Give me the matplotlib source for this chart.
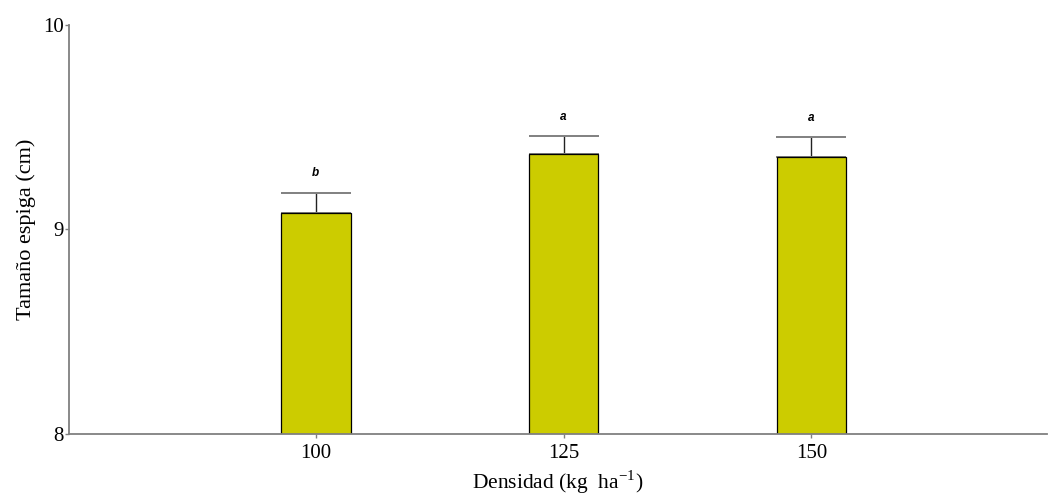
import matplotlib
matplotlib.use("Agg")
import matplotlib.pyplot as plt
import numpy as np

categories = ["100", "125", "150"]
means = [9.08, 9.37, 9.355]
errors = [0.10, 0.085, 0.095]
letters = ["b", "a", "a"]

plt.rcParams['font.family'] = ['Liberation Serif', 'DejaVu Serif']
plt.rcParams['mathtext.fontset'] = 'custom'
plt.rcParams['mathtext.rm'] = 'Liberation Serif'

fig = plt.figure(figsize=(10.49, 4.94), dpi=100)
ax = fig.add_axes([0.0658, 0.1215, 0.9322, 0.8279])

x = np.arange(len(categories))
ax.bar(x, means, width=0.28, bottom=0, color='#cccc00', edgecolor='black', linewidth=0.9, zorder=2)
eb = ax.errorbar(x, means, yerr=[np.zeros(len(errors)), errors], fmt='none', ecolor='#222222',
                 elinewidth=1.0, capsize=25, capthick=1.4, zorder=1)
for cl in eb[1]:
    cl.set_markeredgecolor('#808080')
    cl.set_color('#808080')

for xi, m, e, l in zip(x, means, errors, letters):
    ax.text(xi, m + e + 0.065, l, ha='center', va='bottom', fontsize=8.5,
            family='Liberation Sans', weight='bold', style='italic')

ax.set_ylim(8, 10)
ax.set_xlim(-0.996, 2.95)
ax.set_yticks([8, 9, 10])
ax.set_xticks(x)
ax.set_xticklabels(categories)

for s in ['top', 'right']:
    ax.spines[s].set_visible(False)
for s in ['left', 'bottom']:
    ax.spines[s].set_color('#808080')
    ax.spines[s].set_linewidth(1.3)

ax.tick_params(axis='both', colors='#808080', labelcolor='black', labelsize=15, length=3, width=1)
ax.tick_params(axis='y', pad=1)
ax.tick_params(axis='x', pad=4)

ax.set_ylabel('Tamaño espiga (cm)', fontsize=16, labelpad=5)
ax.set_xlabel(r'Densidad (kg  ha$^{\mathregular{-1}}$)', fontsize=15.5, labelpad=4)

fig.savefig('out.png', dpi=100)
